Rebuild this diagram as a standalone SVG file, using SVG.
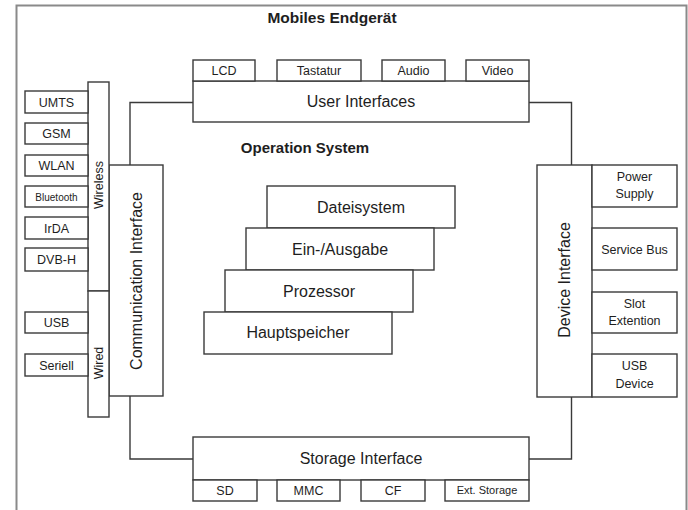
<svg xmlns="http://www.w3.org/2000/svg" width="688" height="510" viewBox="0 0 688 510">
  <style>
    .frame { fill: none; stroke: #8a8a8a; stroke-width: 2; }
    .box { fill: #ffffff; stroke: #3a3a3a; stroke-width: 1.4; }
    .wire { fill: none; stroke: #3a3a3a; stroke-width: 1.4; }
    text { font-family: "Liberation Sans", Arial, sans-serif; fill: #1e1e1e; text-anchor: middle; }
    .title { font-weight: bold; font-size: 15.5px; }
    .big { font-size: 16px; }
    .small { font-size: 12.5px; }
    .tiny { font-size: 11px; }
  </style>

  <!-- device frame (open at the bottom) -->
  <path class="frame" d="M16.5,512 V5.5 H686.5 V512"/>
  <text class="title" x="332" y="23">Mobiles Endgerät</text>
  <text class="title" x="305" y="153" style="font-size:15px">Operation System</text>

  <!-- connectors between the interface blocks -->
  <g id="connectors">
    <path class="wire" d="M130,165 V102.5 H193"/>
    <path class="wire" d="M529,102.5 H571.5 V165"/>
    <path class="wire" d="M130,396 V459 H193"/>
    <path class="wire" d="M529,459 H571.5 V397"/>
  </g>

  <!-- user interfaces -->
  <g id="user-interfaces">
    <rect class="box" x="193" y="81" width="336" height="41"/>
    <text class="big" x="361" y="107">User Interfaces</text>
  </g>
  <g id="lcd"><rect class="box" x="193" y="60" width="62" height="21"/><text class="small" x="224" y="74.5">LCD</text></g>
  <g id="tastatur"><rect class="box" x="277" y="60" width="84" height="21"/><text class="small" x="319" y="74.5">Tastatur</text></g>
  <g id="audio"><rect class="box" x="382" y="60" width="63" height="21"/><text class="small" x="413.5" y="74.5">Audio</text></g>
  <g id="video"><rect class="box" x="466" y="60" width="63" height="21"/><text class="small" x="497.5" y="74.5">Video</text></g>

  <!-- storage interface -->
  <g id="storage-interface">
    <rect class="box" x="193" y="437" width="336" height="43"/>
    <text class="big" x="361" y="464">Storage Interface</text>
  </g>
  <g id="sd"><rect class="box" x="193" y="480" width="64" height="21"/><text class="small" x="225" y="494.5">SD</text></g>
  <g id="mmc"><rect class="box" x="277" y="480" width="63" height="21"/><text class="small" x="308.5" y="494.5">MMC</text></g>
  <g id="cf"><rect class="box" x="361" y="480" width="64" height="21"/><text class="small" x="393" y="494.5">CF</text></g>
  <g id="ext-storage"><rect class="box" x="445" y="480" width="84" height="21"/><text class="tiny" x="487" y="494">Ext. Storage</text></g>

  <!-- communication interface -->
  <g id="communication-interface">
    <rect class="box" x="109" y="165" width="54" height="231"/>
    <text class="big" transform="translate(142,281) rotate(-90)">Communication Interface</text>
  </g>
  <g id="wireless">
    <rect class="box" x="88" y="82" width="21" height="209"/>
    <text class="small" transform="translate(103,185) rotate(-90)">Wireless</text>
  </g>
  <g id="wired">
    <rect class="box" x="88" y="291" width="21" height="126"/>
    <text class="small" transform="translate(103,363) rotate(-90)">Wired</text>
  </g>
  <g id="umts"><rect class="box" x="25" y="91" width="63" height="22"/><text class="small" x="56.5" y="106.5">UMTS</text></g>
  <g id="gsm"><rect class="box" x="25" y="123" width="63" height="21"/><text class="small" x="56.5" y="138">GSM</text></g>
  <g id="wlan"><rect class="box" x="25" y="155" width="63" height="21"/><text class="small" x="56.5" y="170">WLAN</text></g>
  <g id="bluetooth"><rect class="box" x="25" y="186" width="63" height="21"/><text class="tiny" x="56.5" y="200.5" style="font-size:10px">Bluetooth</text></g>
  <g id="irda"><rect class="box" x="25" y="217" width="63" height="22"/><text class="small" x="56.5" y="232.5">IrDA</text></g>
  <g id="dvb-h"><rect class="box" x="25" y="248" width="63" height="23"/><text class="small" x="56.5" y="264">DVB-H</text></g>
  <g id="usb"><rect class="box" x="25" y="312" width="63" height="21"/><text class="small" x="56.5" y="327">USB</text></g>
  <g id="seriell"><rect class="box" x="25" y="354" width="63" height="22"/><text class="small" x="56.5" y="369.5">Seriell</text></g>

  <!-- device interface -->
  <g id="device-interface">
    <rect class="box" x="537" y="165" width="55" height="232"/>
    <text class="big" transform="translate(570,280) rotate(-90)">Device Interface</text>
  </g>
  <g id="power-supply"><rect class="box" x="592" y="165" width="85" height="42"/><text class="small" x="634.5" y="181">Power</text><text class="small" x="634.5" y="198">Supply</text></g>
  <g id="service-bus"><rect class="box" x="592" y="228" width="85" height="42"/><text class="small" x="634.5" y="253.5">Service Bus</text></g>
  <g id="slot-extention"><rect class="box" x="592" y="292" width="85" height="41"/><text class="small" x="634.5" y="307.5">Slot</text><text class="small" x="634.5" y="325">Extention</text></g>
  <g id="usb-device"><rect class="box" x="592" y="354" width="85" height="43"/><text class="small" x="634.5" y="370">USB</text><text class="small" x="634.5" y="387.5">Device</text></g>

  <!-- operation system layers -->
  <g id="dateisystem"><rect class="box" x="267" y="186" width="188" height="42"/><text class="big" x="361" y="212.5">Dateisystem</text></g>
  <g id="ein-ausgabe"><rect class="box" x="246" y="228" width="188" height="42"/><text class="big" x="340" y="254.5">Ein-/Ausgabe</text></g>
  <g id="prozessor"><rect class="box" x="225" y="270" width="188" height="42"/><text class="big" x="319" y="296.5">Prozessor</text></g>
  <g id="hauptspeicher"><rect class="box" x="204" y="312" width="188" height="42"/><text class="big" x="298" y="338">Hauptspeicher</text></g>
</svg>
